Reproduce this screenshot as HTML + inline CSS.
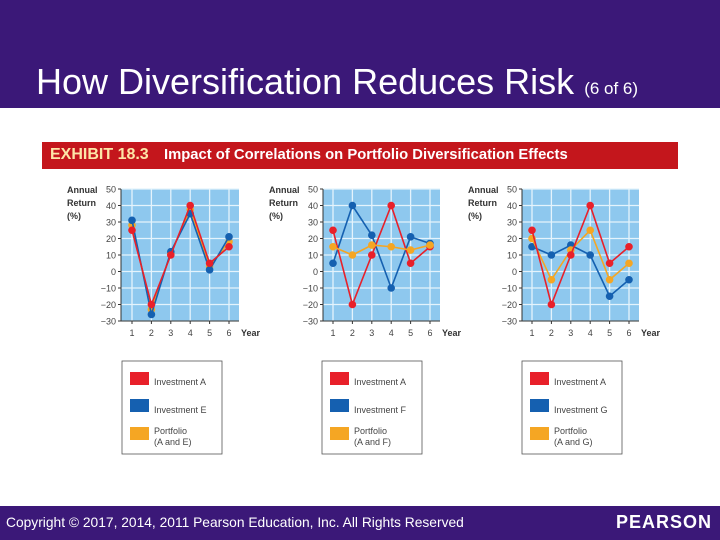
<!DOCTYPE html>
<html><head><meta charset="utf-8"><style>
body{margin:0;width:720px;height:540px;overflow:hidden;background:#fff;font-family:"Liberation Sans",sans-serif}
#top{position:absolute;left:0;top:0;width:720px;height:108px;background:#3b1878}
#title{position:absolute;left:36px;top:61px;color:#fff;font-size:36px;white-space:nowrap}
#title span{font-size:17px}
#foot{position:absolute;left:0;top:506px;width:720px;height:34px;background:#3b1878}
#copy{position:absolute;left:6px;top:9px;color:#fff;font-size:13.8px;white-space:nowrap}
#logo{position:absolute;right:8px;top:6px;color:#fff;font-size:18px;font-weight:bold;letter-spacing:1px}
#banner{position:absolute;left:42px;top:142px;width:636px;height:27px;background:#c4161c}
#banner b{position:absolute;left:8px;top:4px;color:#fde6a8;font-size:16px;white-space:nowrap}
#banner i{position:absolute;left:122px;top:5px;color:#fff;font-size:14.8px;font-weight:bold;font-style:normal;white-space:nowrap}
svg{position:absolute;left:0;top:0}
</style></head><body>
<div id="top"><div id="title">How Diversification Reduces Risk <span>(6 of 6)</span></div></div>
<div id="banner"><b>EXHIBIT 18.3</b><i>Impact of Correlations on Portfolio Diversification Effects</i></div>
<svg id="chart" width="720" height="540"></svg>
<div id="foot"><div id="copy">Copyright © 2017, 2014, 2011 Pearson Education, Inc. All Rights Reserved</div><div id="logo">PEARSON</div></div>
<script>
const years=[1,2,3,4,5,6];
const yTicks=[50,40,30,20,10,0,-10,-20,-30];
const seriesA=[25,-20,10,40,5,15];
const seriesE=[31,-26,12,35,1,21];
const portAE=[28,-23,11,37.5,3,18];
const seriesF=[5,40,22,-10,21,17];
const portAF=[15,10,16,15,13,16];
const seriesG=[15,10,16,10,-15,-5];
const portAG=[20,-5,13,25,-5,5];
const panels=[
 {x0:121,x1:239,first:132,last:229,series:[[portAE,'#f5a623'],[seriesE,'#1560b0'],[seriesA,'#e8202a']],names:['Investment A','Investment E','Portfolio','(A and E)'],lx:122},
 {x0:323,x1:440,first:333,last:430,series:[[seriesF,'#1560b0'],[seriesA,'#e8202a'],[portAF,'#f5a623']],names:['Investment A','Investment F','Portfolio','(A and F)'],lx:322},
 {x0:522,x1:639,first:532,last:629,series:[[seriesG,'#1560b0'],[portAG,'#f5a623'],[seriesA,'#e8202a']],names:['Investment A','Investment G','Portfolio','(A and G)'],lx:522}
];
const NS='http://www.w3.org/2000/svg';
const svg=document.getElementById('chart');
function mk(t,a,p){const e=document.createElementNS(NS,t);for(const k in a)e.setAttribute(k,a[k]);(p||svg).appendChild(e);return e;}
const yT=189,yB=321;
function ys(v){return yB-(v+30)/80*(yB-yT);}
panels.forEach((p,pi)=>{
 const xs=y=>p.first+(y-1)*(p.last-p.first)/5;
 const bg=mk('rect',{x:p.x0,y:yT,width:p.x1-p.x0,height:yB-yT,fill:'#8ec8ee'});
 
 
 yTicks.forEach(t=>{
  mk('line',{x1:p.x0,x2:p.x1,y1:ys(t),y2:ys(t),stroke:'#e4f3fc','stroke-width':1.3});
  mk('line',{x1:p.x0-3,x2:p.x0,y1:ys(t),y2:ys(t),stroke:'#333'});
  const tx=mk('text',{x:p.x0-5,y:ys(t)+3.5,'text-anchor':'end','font-size':9,fill:'#444'});
  tx.textContent=t<0?'\u2212'+(-t):t;
  
  
 });
 years.forEach(y=>{
  mk('line',{x1:xs(y),x2:xs(y),y1:yT,y2:yB,stroke:'#e4f3fc','stroke-width':1.3});
  mk('line',{x1:xs(y),x2:xs(y),y1:yB,y2:yB+3,stroke:'#333'});
  const tx=mk('text',{x:xs(y),y:yB+15,'text-anchor':'middle','font-size':9,fill:'#444'});
  tx.textContent=y;
  
  
 });
 mk('line',{x1:p.x0,x2:p.x0,y1:yT,y2:yB,stroke:'#333'});
 mk('line',{x1:p.x0,x2:p.x1,y1:yB,y2:yB,stroke:'#333'});
 const yr=mk('text',{x:p.x1+2,y:yB+15,'font-size':9,'font-weight':'bold',fill:'#333'});yr.textContent='Year';
 
 
 ['Annual','Return','(%)'].forEach((s,i)=>{const t=mk('text',{x:p.x0-54,y:yT+4+i*13,'font-size':9,'font-weight':'bold',fill:'#333'});t.textContent=s;
  
  });
 p.series.forEach(([vals,col])=>{
  const pl=mk('polyline',{points:vals.map((v,i)=>xs(years[i])+','+ys(v)).join(' '),fill:'none',stroke:col,'stroke-width':1.6});
  
  
  vals.forEach((v,i)=>{const c=mk('circle',{cx:xs(years[i]),cy:ys(v),r:3.8,fill:col});
   
   });
 });
 const lg=mk('rect',{x:p.lx,y:361,width:100,height:93,fill:'#fff',stroke:'#555','stroke-width':0.8});
 
 
 [['#e8202a',372],['#1560b0',399],['#f5a623',427]].forEach(([c,y])=>{const r=mk('rect',{x:p.lx+8,y:y,width:19,height:13,fill:c});
  
  });
 [[p.names[0],385],[p.names[1],413],[p.names[2],434],[p.names[3],445]].forEach(([s,y])=>{const t=mk('text',{x:p.lx+32,y:y,'font-size':9,fill:'#444'});t.textContent=s;
  
  });
});
</script>
</body></html>
